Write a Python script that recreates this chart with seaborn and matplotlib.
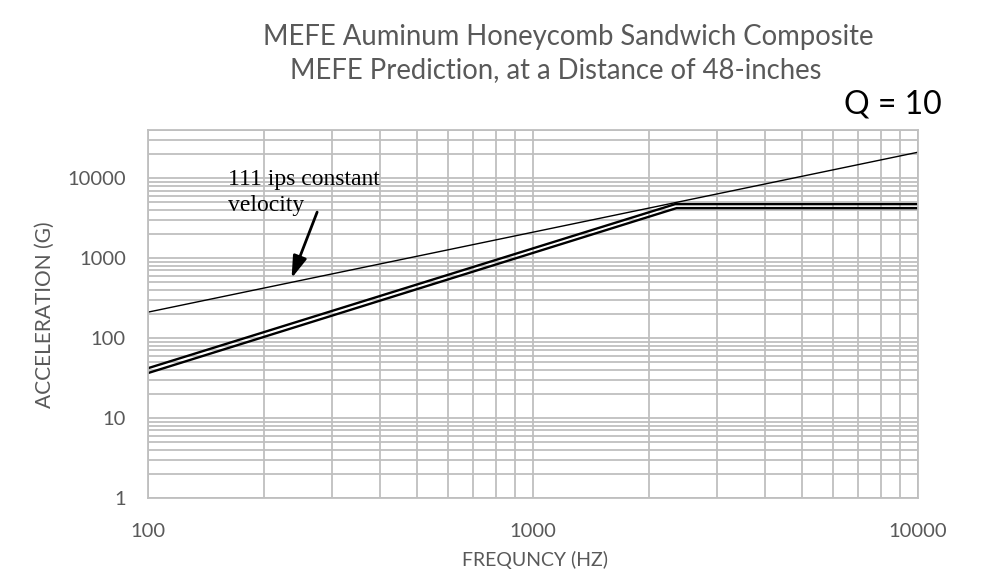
import numpy as np
import pandas as pd
import matplotlib
matplotlib.use("Agg")
import matplotlib.pyplot as plt
import seaborn as sns
from matplotlib.ticker import FixedLocator, LogLocator, NullFormatter, FuncFormatter

# ---- data ----
vel_freq = [100, 10000]
vel_acc = [211, 21100]
upper_freq = [100, 2340, 10000]
upper_acc = [42, 4730, 4730]
lower_freq = [100, 2360, 10000]
lower_acc = [36.5, 4220, 4220]
x_ticks = [100, 1000, 10000]
y_ticks = [1, 10, 100, 1000, 10000]

df = pd.concat([
    pd.DataFrame({"freq": vel_freq, "acc": vel_acc, "series": "velocity"}),
    pd.DataFrame({"freq": upper_freq, "acc": upper_acc, "series": "upper"}),
    pd.DataFrame({"freq": lower_freq, "acc": lower_acc, "series": "lower"}),
])

sns.set_theme(style="white")
plt.rcParams["font.family"] = ["Lato", "DejaVu Sans"]

fig = plt.figure(figsize=(9.92, 5.77), dpi=100)
ax = fig.add_axes([148/992, 1-498/577, (918-148)/992, (498-130)/577])

ax.set_xscale("log")
ax.set_yscale("log")
ax.set_xlim(100, 10000)
ax.set_ylim(1, 40000)

grid_c = "#BFBFBF"
ax.xaxis.set_major_locator(FixedLocator(x_ticks))
ax.yaxis.set_major_locator(FixedLocator(y_ticks))
ax.xaxis.set_minor_locator(LogLocator(base=10, subs=np.arange(2, 10)))
ax.yaxis.set_minor_locator(LogLocator(base=10, subs=np.arange(2, 10)))
ax.xaxis.set_minor_formatter(NullFormatter())
ax.yaxis.set_minor_formatter(NullFormatter())
fmt = FuncFormatter(lambda v, p: f"{int(round(v))}")
ax.xaxis.set_major_formatter(fmt)
ax.yaxis.set_major_formatter(fmt)
ax.grid(True, which="both", color=grid_c, linewidth=1.3)
ax.set_axisbelow(True)
ax.tick_params(which="both", length=0, labelsize=14.5, colors="#595959")
ax.tick_params(axis="x", pad=18)
ax.tick_params(axis="y", pad=16)
for s in ax.spines.values():
    s.set_color(grid_c)
    s.set_linewidth(1.3)

sns.lineplot(data=df[df.series == "velocity"], x="freq", y="acc", ax=ax,
             color="black", linewidth=1.0, legend=False, estimator=None, sort=False)
sns.lineplot(data=df[df.series == "upper"], x="freq", y="acc", ax=ax,
             color="black", linewidth=1.7, legend=False, estimator=None, sort=False)
sns.lineplot(data=df[df.series == "lower"], x="freq", y="acc", ax=ax,
             color="black", linewidth=1.7, legend=False, estimator=None, sort=False)

ax.set_xlabel("FREQUNCY (HZ)", fontsize=14, color="#595959", va="center")
ax.set_ylabel("ACCELERATION (G)", fontsize=15, color="#595959", va="center")
ax.xaxis.set_label_coords((535-148)/770, (498-560)/368)
ax.yaxis.set_label_coords((45-148)/770, (498-315)/368)

ax.annotate("", xy=(236, 560), xytext=(275, 3760),
            arrowprops=dict(arrowstyle="-|>,head_length=1.1,head_width=0.35",
                            color="black", lw=2.0, shrinkA=0, shrinkB=0))
ax.text(161, 12900, "111 ips constant\nvelocity", fontsize=17,
        family=["Liberation Serif"], va="top", ha="left", color="black",
        linespacing=1.3)

fig.text(568/992, 1-37/577, "MEFE Auminum Honeycomb Sandwich Composite",
         ha="center", va="center", fontsize=19.8, color="#595959")
fig.text(556/992, 1-70/577, "MEFE Prediction, at a Distance of 48-inches",
         ha="center", va="center", fontsize=19.8, color="#595959")
fig.text(893/992, 1-104/577, "Q = 10", ha="center", va="center",
         fontsize=23, color="black")

fig.savefig("out.png", dpi=100)
